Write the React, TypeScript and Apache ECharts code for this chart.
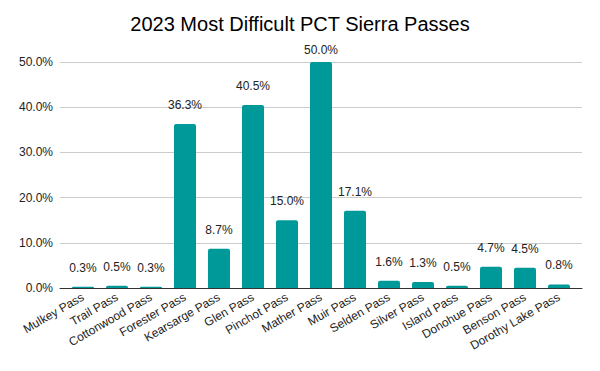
import React, { useEffect, useRef } from "react";
import * as echarts from "echarts";

const categories = [
  "Mulkey Pass", "Trail Pass", "Cottonwood Pass", "Forester Pass", "Kearsarge Pass",
  "Glen Pass", "Pinchot Pass", "Mather Pass", "Muir Pass", "Selden Pass",
  "Silver Pass", "Island Pass", "Donohue Pass", "Benson Pass", "Dorothy Lake Pass",
];
const values = [0.3, 0.5, 0.3, 36.3, 8.7, 40.5, 15.0, 50.0, 17.1, 1.6, 1.3, 0.5, 4.7, 4.5, 0.8];
const titleText = "2023 Most Difficult PCT Sierra Passes";
const yMax = 50;
const yStep = 10;

export default function App() {
  const ref = useRef<HTMLDivElement>(null);
  useEffect(() => {
    if (!ref.current) return;
    const chart = echarts.init(ref.current, null, { renderer: "svg" });
    const font = "'Liberation Sans', Arial, sans-serif";
    const barData = values.map((v) =>
      v >= yMax ? { value: v, label: { distance: 6 } } : { value: v }
    );
    chart.setOption({
      animation: false,
      graphic: [
        {
          type: "text",
          x: 300,
          y: 24,
          style: {
            text: titleText,
            fontFamily: font,
            fontSize: 20,
            fill: "#000",
            textAlign: "center",
            textVerticalAlign: "middle",
          },
        },
      ],
      grid: [
        { left: 66, right: 24, top: 62, bottom: 83 },
        { left: 60, right: 18, top: 62, bottom: 83 },
      ],
      xAxis: [
        {
          type: "category",
          gridIndex: 0,
          data: categories,
          axisLine: { show: false },
          axisTick: { show: false },
          axisLabel: {
            interval: 0,
            rotate: 30,
            fontFamily: font,
            fontSize: 12,
            color: "#222",
            margin: 8,
          },
        },
        {
          type: "value",
          gridIndex: 1,
          min: 0,
          max: 1,
          axisLine: { show: true, onZero: false, lineStyle: { color: "#333" } },
          axisTick: { show: false },
          axisLabel: { show: false },
          splitLine: { show: false },
        },
      ],
      yAxis: [
        {
          type: "value",
          gridIndex: 0,
          min: 0,
          max: yMax,
          interval: yStep,
          show: false,
          splitLine: { show: false },
        },
        {
          type: "value",
          gridIndex: 1,
          min: 0,
          max: yMax,
          interval: yStep,
          axisLine: { show: false },
          axisTick: { show: false },
          splitLine: { lineStyle: { color: "#ccc" } },
          axisLabel: {
            formatter: (v: number) => v.toFixed(1) + "%",
            fontFamily: font,
            fontSize: 12,
            color: "#222",
            margin: 7,
          },
        },
      ],
      series: [
        {
          type: "bar",
          xAxisIndex: 0,
          yAxisIndex: 0,
          data: barData,
          barWidth: 22,
          z: 3,
          itemStyle: { color: "#009999", borderRadius: [2, 2, 0, 0] },
          label: {
            show: true,
            position: "top",
            distance: 13,
            formatter: (p: any) => Number(p.value).toFixed(1) + "%",
            fontFamily: font,
            fontSize: 12,
            color: "#222",
          },
        },
      ],
    });
    return () => chart.dispose();
  }, []);
  return <div ref={ref} style={{ width: 600, height: 371, margin: -8 }} />;
}
